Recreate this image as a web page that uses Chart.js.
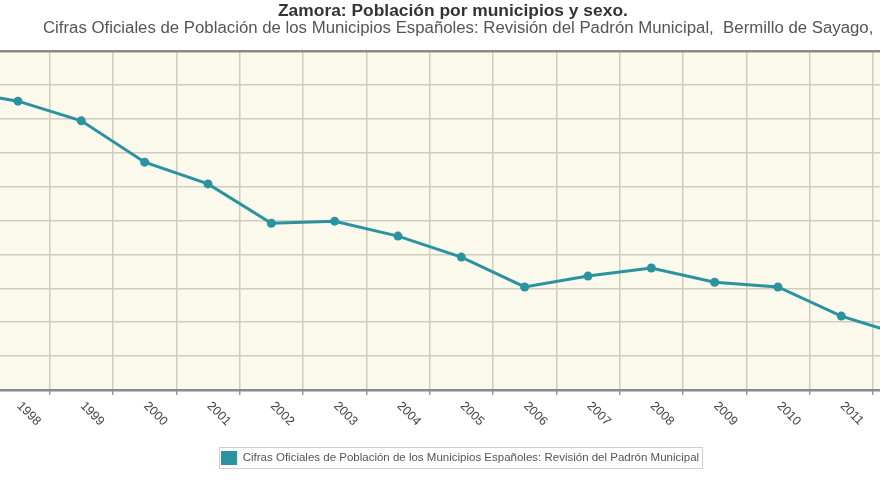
<!DOCTYPE html>
<html>
<head>
<meta charset="utf-8">
<script src="https://cdn.jsdelivr.net/npm/chart.js@4/dist/chart.umd.min.js"></script>
<style>
  html, body { margin: 0; padding: 0; background: #fff; overflow: hidden; width: 880px; height: 495px; }
  #wrap { position: relative; width: 880px; height: 495px; overflow: hidden; }
  #c { position: absolute; left: -150px; top: 0; }
  .t { position: absolute; white-space: nowrap; font-family: 'Liberation Sans', Arial, sans-serif; transform-origin: 0 0; }
  #title { left: 278px; top: 3px; font-size: 16px; line-height: 16px; font-weight: bold; color: #333; transform: scaleX(1.087); }
  #sub { left: 43px; top: 20px; font-size: 16px; line-height: 16px; color: #555; transform: scaleX(1.049); }
</style>
</head>
<body>
<div id="wrap">
  <canvas id="c" width="1220" height="495"></canvas>
  <div class="t" id="title">Zamora: Población por municipios y sexo.</div>
  <div class="t" id="sub">Cifras Oficiales de Población de los Municipios Españoles: Revisión del Padrón Municipal,&nbsp; Bermillo de Sayago,</div>
</div>
<script>
const years = ['1996','1998','1999','2000','2001','2002','2003','2004','2005','2006','2007','2008','2009','2010','2011','2012'];
const poblacion = [1442,1426,1397,1336,1304,1246,1249,1227,1196,1152,1168,1180,1159,1152,1109,1080];
const seriesName = 'Cifras Oficiales de Población de los Municipios Españoles: Revisión del Padrón Municipal';
const yMin = 1000, yMax = 1500, yStep = 50;

const TEAL = '#2a939f';
const FONT = "'Liberation Sans', Arial, sans-serif";
const LEGEND_SHIFT = 30.4;

const bgPlugin = {
  id: 'bg',
  afterLayout(chart) {
    if (chart.legend) {
      chart.legend.left += LEGEND_SHIFT;
      chart.legend.right += LEGEND_SHIFT;
    }
  },
  beforeDraw(chart) {
    const {ctx, chartArea: a} = chart;
    ctx.save();
    ctx.fillStyle = '#fbf8ec';
    ctx.fillRect(a.left, a.top, a.right - a.left, a.bottom - a.top);
    ctx.restore();
  },
  afterDraw(chart) {
    const {ctx} = chart;
    const xs = chart.scales.x;
    ctx.save();
    ctx.font = '12.5px ' + FONT;
    ctx.fillStyle = '#444';
    ctx.textAlign = 'left';
    ctx.textBaseline = 'middle';
    xs.ticks.forEach((t, i) => {
      const px = xs.getPixelForTick(i);
      ctx.save();
      ctx.translate(px + 1, 404);
      ctx.rotate(Math.PI / 4);
      ctx.fillText(xs.getLabelForValue(t.value), 0, 0);
      ctx.restore();
    });
    ctx.restore();
    const hb = chart.legend && chart.legend.legendHitBoxes && chart.legend.legendHitBoxes[0];
    if (hb) {
      ctx.save();
      ctx.strokeStyle = '#cfcfcf';
      ctx.lineWidth = 1;
      ctx.strokeRect(Math.round(hb.left - 2) + 0.5, Math.round(hb.top - 4) + 0.5, Math.round(hb.width + 5), Math.round(hb.height + 7));
      ctx.restore();
    }
  }
};

new Chart(document.getElementById('c'), {
  type: 'line',
  data: {
    labels: years,
    datasets: [{
      label: seriesName,
      data: poblacion,
      borderColor: TEAL,
      backgroundColor: TEAL,
      borderWidth: 3,
      pointRadius: 4.5,
      pointBackgroundColor: TEAL,
      pointBorderWidth: 0,
      tension: 0,
      fill: false
    }]
  },
  options: {
    responsive: false,
    animation: false,
    layout: { padding: { left: 73, right: 133.7, top: 51, bottom: 20 } },
    scales: {
      x: {
        offset: true,
        grid: {
          offset: true,
          color: '#d0ccc0',
          lineWidth: 1.5,
          drawTicks: true,
          tickLength: 5,
          tickColor: '#9a9a9a'
        },
        border: { display: false },
        ticks: { display: false },
        afterFit(s) { s.height = 51; }
      },
      y: {
        min: yMin,
        max: yMax,
        ticks: { display: false, stepSize: yStep },
        grid: {
          drawTicks: false,
          color: (c) => (c.tick && (c.tick.value === yMin || c.tick.value === yMax)) ? '#8a8a8a' : '#d0ccc0',
          lineWidth: (c) => (c.tick && (c.tick.value === yMin || c.tick.value === yMax)) ? 2.5 : 1.5
        },
        border: { display: false },
        afterFit(s) { s.width = 0; }
      }
    },
    plugins: {
      title: { display: false },
      tooltip: { enabled: false },
      legend: {
        display: true,
        position: 'bottom',
        labels: {
          boxWidth: 16,
          boxHeight: 14,
          padding: 10,
          color: '#555',
          font: { size: 11.5, family: FONT },
          generateLabels(chart) {
            return Chart.defaults.plugins.legend.labels.generateLabels(chart).map(l => Object.assign(l, { lineWidth: 0 }));
          }
        }
      }
    }
  },
  plugins: [bgPlugin]
});
</script>
</body>
</html>
